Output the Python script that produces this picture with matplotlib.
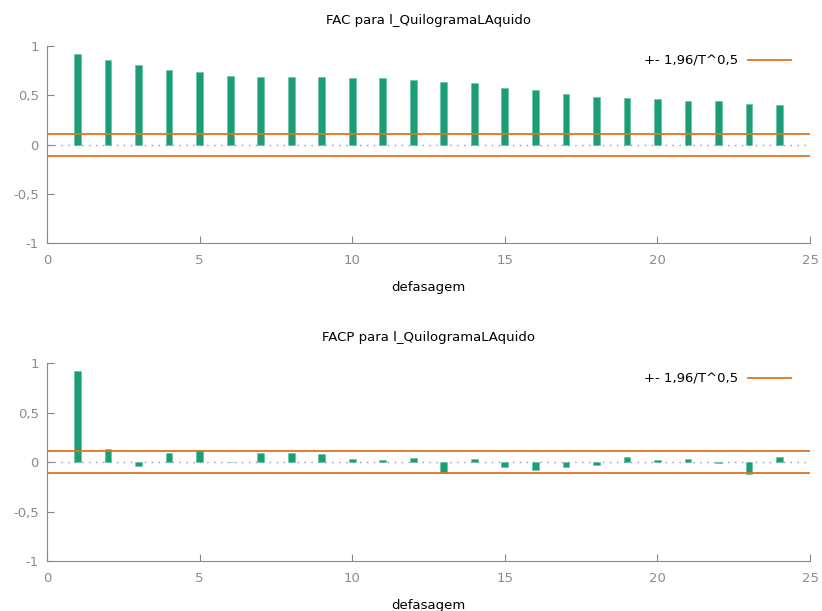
import numpy as np
import matplotlib
matplotlib.use('Agg')
import matplotlib.pyplot as plt

lags = np.arange(1, 25)
fac = [0.916, 0.862, 0.808, 0.754, 0.740, 0.700, 0.687, 0.687, 0.687, 0.673,
       0.673, 0.657, 0.633, 0.620, 0.579, 0.552, 0.512, 0.485, 0.471, 0.458,
       0.444, 0.444, 0.417, 0.404]
facp = [0.919, 0.135, -0.040, 0.097, 0.122, 0.003, 0.097, 0.097, 0.084, 0.030,
        0.017, 0.043, -0.107, 0.027, -0.054, -0.080, -0.054, -0.027, 0.054, 0.017,
        0.030, -0.005, -0.120, 0.054]
banda = 0.113
titulos = ['FAC para l_QuilogramaLAquido', 'FACP para l_QuilogramaLAquido']
yticks = [-1, -0.5, 0, 0.5, 1]
ytick_labels = ['-1', '-0,5', '0', '0,5', '1']
xticks = [0, 5, 10, 15, 20, 25]
legenda = '+- 1,96/T^0,5'

verde = '#1b9e77'
laranja = '#e2731f'
cinza = '#8a8a96'

plt.rcParams['font.family'] = 'DejaVu Sans'
plt.rcParams['font.size'] = 9

fig = plt.figure(figsize=(8.22, 6.11), dpi=100)
posicoes = [[0.0572, 0.6018, 0.9283, 0.3229], [0.0572, 0.0818, 0.9283, 0.3236]]

for pos, dados, titulo in zip(posicoes, [fac, facp], titulos):
    ax = fig.add_axes(pos)
    ax.bar(lags, dados, width=0.22, color=verde, edgecolor='#5fbf9f', linewidth=0.4, zorder=2)
    ax.axhline(0, color='#999999', linestyle=(0, (1, 4)), linewidth=1, zorder=1)
    ax.axhline(banda, color=laranja, linewidth=1.3, zorder=3)
    ax.axhline(-banda, color=laranja, linewidth=1.3, zorder=3)
    ax.set_xlim(0, 25)
    ax.set_ylim(-1, 1)
    ax.set_yticks(yticks)
    ax.set_yticklabels(ytick_labels)
    ax.set_xticks(xticks)
    for s in ['top', 'right']:
        ax.spines[s].set_visible(False)
    for s in ['left', 'bottom']:
        ax.spines[s].set_color('#888888')
    ax.tick_params(direction='in', length=5, color='#888888', labelcolor=cinza, labelsize=9.5)
    ax.tick_params(axis='x', pad=8)
    ax.tick_params(axis='y', pad=6)
    ax.set_xlabel('defasagem', fontsize=9.5, labelpad=10)
    ax.set_title(titulo, fontsize=9.5, pad=16)
    ax.plot([], [], color=laranja, linewidth=1.3, label=legenda)
    ax.legend(loc='upper right', frameon=False, fontsize=9.5, handlelength=3.2,
              markerfirst=False, bbox_to_anchor=(0.99, 1.015))

fig.savefig('out.png', dpi=100)
